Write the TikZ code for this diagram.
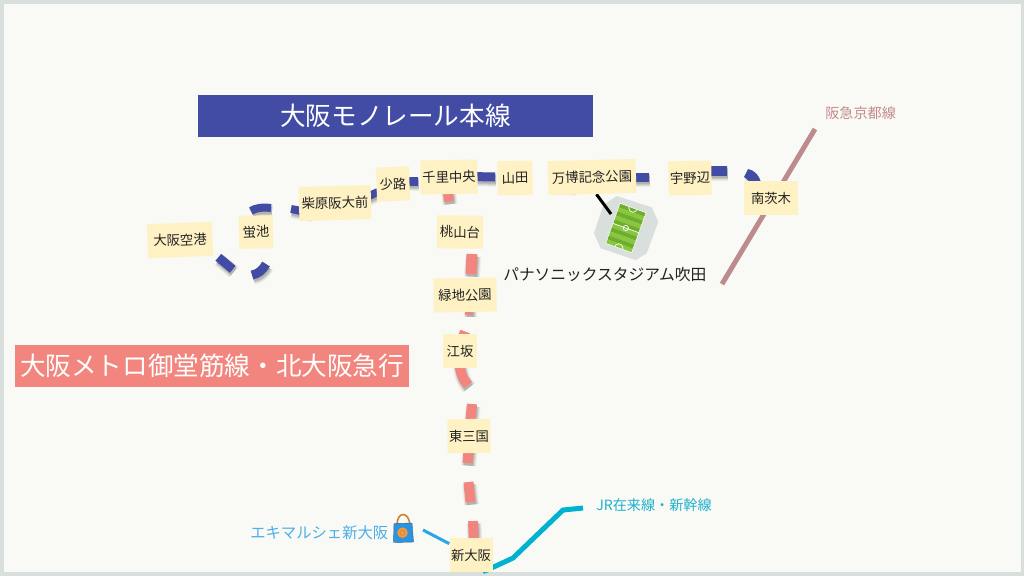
\documentclass[tikz,border=0pt]{standalone}
\usepackage{fontspec}
\setmainfont{Noto Sans CJK JP}
\usetikzlibrary{calc}
\definecolor{frameC}{HTML}{D9DFDC}
\definecolor{paperC}{HTML}{F9FAF5}
\definecolor{monoC}{HTML}{434CA4}
\definecolor{midoC}{HTML}{F2857D}
\definecolor{noteC}{HTML}{FEF1C3}
\definecolor{hankyuC}{HTML}{BC8B8E}
\definecolor{hankyuT}{HTML}{C4898C}
\definecolor{jrC}{HTML}{00B2CF}
\definecolor{jrT}{HTML}{1FB0CC}
\definecolor{marC}{HTML}{29A6E8}
\definecolor{marT}{HTML}{4CAEE8}
\definecolor{greenA}{HTML}{6BAF2C}
\definecolor{greenB}{HTML}{8CC63F}
\definecolor{bagC}{HTML}{2C93DC}
\definecolor{inkC}{HTML}{222222}
\pgfdeclarelayer{bg}
\pgfsetlayers{bg,main}
\tikzset{
  x=0.75pt,y=-0.75pt,
  sticky/.style={fill=noteC,text=inkC,inner sep=0pt,font=\fontsize{10}{12}\selectfont},
  banner/.style={anchor=center,inner sep=0pt,text=white,font=\fontsize{19.2}{23}\selectfont},
  lbl/.style={inner sep=0pt,anchor=west},
}
\newcommand{\stn}[7]{\node[sticky,minimum width=#4*0.75pt,minimum height=#5*0.75pt,rotate=#6] (#1) at (#2,#3) {#7};}
\newcommand{\seg}[3]{%
  \foreach \e/\o in {5/.05,3/.07,1/.09,-1/.10}{%
    \draw[draw=black,opacity=\o,line width={(#2+\e)*0.75pt},xshift=0.8pt,yshift=-2pt] #3;}%
  \draw[draw=#1,line width=#2*0.75pt] #3;}
\begin{document}
\begin{tikzpicture}
\useasboundingbox (0,0) rectangle (1024,576);

% stations
\stn{itami}{180}{240}{65}{34}{2}{大阪空港}
\stn{hotaru}{256}{232}{34}{33}{1}{蛍池}
\stn{shibahara}{335}{203}{72}{34}{1.5}{柴原阪大前}
\stn{shoji}{393}{184}{33}{34}{2}{少路}
\stn{senri}{449}{177}{57}{34}{1}{千里中央}
\stn{yamada}{515}{178}{35}{34}{1}{山田}
\stn{banpaku}{592}{177}{88}{34}{1.5}{万博記念公園}
\stn{unobe}{690}{178}{43}{34}{1}{宇野辺}
\stn{ibaraki}{771}{198}{54}{34}{0}{南茨木}
\stn{momo}{460}{232}{46}{33}{-0.5}{桃山台}
\stn{ryokuchi}{465}{295}{63}{34}{1}{緑地公園}
\stn{esaka}{460}{351}{34}{34}{0}{江坂}
\stn{higashi}{469}{436}{43}{34}{0.5}{東三国}
\stn{shin}{471}{555}{43}{34}{0}{新大阪}

% banners
\node[fill=monoC,minimum width=395*0.75pt,minimum height=42*0.75pt,banner] (monoB) at (395.5,116) {大阪モノレール本線};
\node[fill=midoC,minimum width=394*0.75pt,minimum height=42*0.75pt,banner] (midoB) at (212,366) {大阪メトロ御堂筋線・北大阪急行};

% labels
\node[lbl,text=hankyuT,font=\fontsize{10.6}{13}\selectfont] (hankyuL) at (825,113) {阪急京都線};
\node[lbl,text=jrT,font=\fontsize{10.6}{13}\selectfont] (jrL) at (596,505) {JR在来線・新幹線};
\node[lbl,text=marT,font=\fontsize{11.5}{14}\selectfont] (marL) at (250,533) {エキマルシェ新大阪};
\node[lbl,text=inkC,font=\fontsize{11.8}{14}\selectfont] (stadL) at (503,274) {パナソニックスタジアム吹田};

% free ends of connectors
\coordinate (hk1) at (815,129);
\coordinate (hk2) at (722,284);
\coordinate (jr1) at (583,508);
\coordinate (jr2) at (563,510);
\coordinate (jr3) at (513,558);
\coordinate (jr4) at (485,571);
\coordinate (mar1) at (423,530);
\coordinate (pin) at (611,214);

% stadium
\coordinate (fa) at (620,203.3);
\coordinate (fb) at (646,212.7);
\coordinate (fc) at (631.7,252.7);
\coordinate (fd) at (605.7,243.3);

\begin{pgfonlayer}{bg}
  \fill[frameC] (0,0) rectangle (1024,576);
  \fill[paperC] (4,3.5) rectangle (1021,572);

  % Hankyu line
  \draw[hankyuC,line width=5*0.75pt] (hk1) -- (hk2);

  % JR line
  \draw[jrC,line width=5*0.75pt,line join=round] (jr1) -- (jr2) -- (jr3) -- (jr4) -- (shin);

  % Monorail dashes
  \seg{monoC}{9}{(218.3,257.3) -- (232.7,269.3)}
  \seg{monoC}{9}{(252,275) .. controls (258,274) and (263,270) .. (266,264)}
  \seg{monoC}{8}{(251,211) .. controls (255,208) and (262,207) .. (271,208)}
  \seg{monoC}{6}{(257,236) -- (257,245)}
  \seg{monoC}{8}{(291,209) -- (312,213)}
  \seg{monoC}{5}{(322,210) .. controls (328,213) and (335,213) .. (345,210)}
  \seg{monoC}{8}{(360,200) -- (378,192)}
  \seg{monoC}{9}{(400,181) -- (418,181)}
  \seg{monoC}{9}{(470,176.5) -- (495,177)}
  \seg{monoC}{6}{(520,178) -- (530,180)}
  \seg{monoC}{5}{(555,187) -- (575,188)}
  \seg{monoC}{9}{(625,177) -- (649,177)}
  \seg{monoC}{10}{(700,171) -- (727,171)}
  \fill[black,opacity=.12,xshift=0.8pt,yshift=-2pt] (744,177) -- (748,169) .. controls (754,170) and (759,175) .. (761,182) -- (750,182) -- cycle;
  \fill[monoC] (744,177) -- (748,169) .. controls (754,170) and (759,175) .. (761,182) -- (750,182) -- cycle;

  % Midosuji dashes
  \seg{midoC}{10}{(447,185) -- (449,201.5)}
  \seg{midoC}{11}{(472,254) -- (471,274)}
  \seg{midoC}{8}{(469,300) -- (469,314.5)}
  \seg{midoC}{10}{(465,331.5) -- (460,345)}
  \seg{midoC}{10}{(459,360) .. controls (460,372) and (462,378) .. (468,385)}
  \seg{midoC}{10}{(472,404) -- (470,425)}
  \seg{midoC}{10}{(469,445) -- (467.5,463)}
  \seg{midoC}{10}{(468.5,482) -- (470.5,502)}
  \seg{midoC}{10}{(473,521) -- (474,545)}

  % connector from Ekimarche to Shin-Osaka
  \draw[marC,line width=3*0.75pt] (mar1) -- (shin);

  % stadium body
  \fill[frameC] (616.7,196) -- (651.7,207.3) -- (658.3,221.7) -- (646.7,253.3) -- (635.7,260) -- (600.7,248.3) -- (594,233.3) -- (603.3,205) -- cycle;
  \foreach \i in {0,...,9}{
    \pgfmathsetmacro{\ta}{\i/10}
    \pgfmathsetmacro{\tb}{(\i+1)/10}
    \pgfmathtruncatemacro{\odd}{mod(\i,2)}
    \ifnum\odd=0 \def\cc{greenA}\else\def\cc{greenB}\fi
    \fill[\cc] ($(fa)!\ta!(fd)$) -- ($(fb)!\ta!(fc)$) -- ($(fb)!\tb!(fc)$) -- ($(fa)!\tb!(fd)$) -- cycle;
  }
  \begin{scope}
    \clip (fa) -- (fb) -- (fc) -- (fd) -- cycle;
    \draw[white,line width=0.5pt] ($(fa)!.5!(fb)$) circle[radius=3.2pt];
    \draw[white,line width=0.5pt] ($(fd)!.5!(fc)$) circle[radius=3.2pt];
  \end{scope}
  \draw[white,line width=0.4pt] (fa) -- (fb) -- (fc) -- (fd) -- cycle;
  \draw[white,line width=0.5pt] ($(fa)!.5!(fd)$) -- ($(fb)!.5!(fc)$);
  \draw[white,line width=0.5pt] ($(fa)!.5!(fc)$) circle[radius=2pt];

  % pointer to stadium
  \draw[black,line width=3*0.75pt] ([xshift=3pt]banpaku.south) -- (pin);
\end{pgfonlayer}

% shopping bag
\draw[draw=brown!80!orange,line width=1.2pt] (397,525) .. controls (397,511) and (409,511) .. (410,525);
\draw[draw=bagC!70!black,fill=bagC,line width=0.3pt] (394,523.5) -- (412,523) -- (413.5,542) -- (393.5,542.5) -- cycle;
\fill[orange!70!brown!80!white] (402.5,532.7) circle[radius=4pt];
\draw[brown,line width=0.3pt] (402.5,532.7) circle[radius=2pt];
\end{tikzpicture}
\end{document}
